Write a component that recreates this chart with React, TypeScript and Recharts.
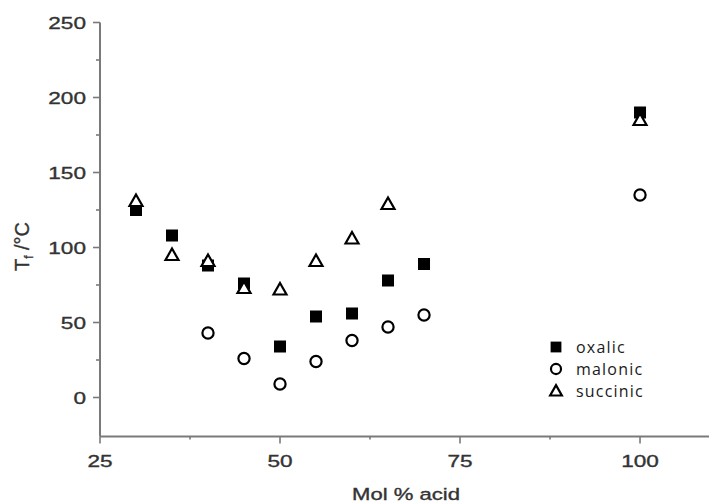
import React from 'react';
import { ScatterChart, Scatter, XAxis, YAxis, Legend, Label } from 'recharts';

const oxalicX = [30, 35, 40, 45, 50, 55, 60, 65, 70, 100];
const oxalicY = [125, 108, 88, 76, 34, 54, 56, 78, 89, 190];
const malonicX = [40, 45, 50, 55, 60, 65, 70, 100];
const malonicY = [43, 26, 9, 24, 38, 47, 55, 135];
const succinicX = [30, 35, 40, 45, 50, 55, 60, 65, 100];
const succinicY = [131, 95, 91, 73, 72, 91, 106, 129, 185];

const xMajorTicks = [25, 50, 75, 100];
const xMinorTicks = [37.5, 62.5, 87.5];
const yMajorTicks = [0, 50, 100, 150, 200, 250];
const yMinorTicks = [25, 75, 125, 175, 225];

const seriesNames = ['oxalic', 'malonic', 'succinic'];

const toPoints = (xs: number[], ys: number[]) => xs.map((x, i) => ({ x, y: ys[i] }));
const oxalicData = toPoints(oxalicX, oxalicY);
const malonicData = toPoints(malonicX, malonicY);
const succinicData = toPoints(succinicX, succinicY);

const AXIS_COLOR = '#7a7a7a';
const TEXT_COLOR = '#333';
const AXIS_FONT = '"Liberation Sans", Arial, sans-serif';

const drawMarker = (kind: string, cx: number, cy: number, s = 1) => {
  if (kind === 'oxalic') {
    const h = 6 * s;
    return <rect x={cx - h} y={cy - h} width={2 * h} height={2 * h} fill="#000" />;
  }
  if (kind === 'malonic') {
    return <circle cx={cx} cy={cy} r={5.6 * s} fill="#fff" stroke="#000" strokeWidth={2.2} />;
  }
  const w = 6.5 * s;
  return (
    <polygon
      points={`${cx},${cy - 6.5 * s} ${cx + w},${cy + 5 * s} ${cx - w},${cy + 5 * s}`}
      fill="#fff"
      stroke="#000"
      strokeWidth={2.2}
      strokeLinejoin="miter"
    />
  );
};

const shapeFor = (kind: string) => (props: any) => {
  const { cx, cy } = props;
  if (cx == null || cy == null) return <g />;
  return drawMarker(kind, cx, cy);
};

const textStyle = {
  fontFamily: AXIS_FONT,
  fill: TEXT_COLOR,
  stroke: TEXT_COLOR,
  strokeWidth: 0.35,
};

const XTick = (props: any) => {
  const { x, y, payload } = props;
  const v = payload.value;
  const major = xMajorTicks.includes(v);
  return (
    <g>
      <line x1={x} x2={x} y1={y} y2={y + (major ? 7 : 3)} stroke={AXIS_COLOR} strokeWidth={1.6} />
      {major && (
        <text
          transform={`translate(${x},${y + 30.5}) scale(1.33,1)`}
          textAnchor="middle"
          fontSize={17}
          style={textStyle}
        >
          {v}
        </text>
      )}
    </g>
  );
};

const YTick = (props: any) => {
  const { x, y, payload } = props;
  const v = payload.value;
  const major = yMajorTicks.includes(v);
  return (
    <g>
      <line x1={x - (major ? 7 : 4)} x2={x} y1={y} y2={y} stroke={AXIS_COLOR} strokeWidth={1.6} />
      {major && (
        <text
          transform={`translate(${x - 14},${y + 6}) scale(1.33,1)`}
          textAnchor="end"
          fontSize={17}
          style={textStyle}
        >
          {v}
        </text>
      )}
    </g>
  );
};

const XLabel = (props: any) => {
  const vb = props.viewBox || { x: 100, y: 436, width: 609 };
  const cx = vb.x + vb.width / 2 + 1.5;
  return (
    <text
      transform={`translate(${cx},${vb.y + 63.5}) scale(1.3,1)`}
      textAnchor="middle"
      fontSize={17}
      style={textStyle}
    >
      Mol % acid
    </text>
  );
};

const YLabel = (props: any) => {
  const vb = props.viewBox || { x: 40, y: 22, height: 414 };
  const cy = vb.y + vb.height / 2 + 17;
  return (
    <text
      transform={`translate(29,${cy}) rotate(-90)`}
      textAnchor="middle"
      fontSize={20}
      style={textStyle}
    >
      T
      <tspan fontSize={12} dy={4}>f</tspan>
      <tspan dy={-4}> /°C</tspan>
    </text>
  );
};

const LegendContent = () => (
  <div>
    {seriesNames.map((name, i) => (
      <div key={i} style={{ display: 'flex', alignItems: 'center', height: 22 }}>
        <svg width={16} height={16} style={{ display: 'block' }}>
          {drawMarker(name, 8, 8, 0.9)}
        </svg>
        <span
          style={{
            marginLeft: 12,
            fontFamily: '"Open Sans", sans-serif',
            fontSize: 16,
            letterSpacing: 1.2,
            color: '#1a1a1a',
            lineHeight: '22px',
          }}
        >
          {name}
        </span>
      </div>
    ))}
  </div>
);

export default function App() {
  return (
    <div style={{ position: 'absolute', left: 0, top: 0, width: 709, height: 503, background: '#fff' }}>
      <ScatterChart width={709} height={503} margin={{ top: 22.5, right: 0, bottom: 26.5, left: 40 }}>
        <XAxis
          type="number"
          dataKey="x"
          domain={[25, 109.58]}
          allowDataOverflow
          ticks={[...xMajorTicks, ...xMinorTicks].sort((a, b) => a - b)}
          interval={0}
          tick={<XTick />}
          tickLine={false}
          tickSize={0}
          tickMargin={0}
          height={40}
          axisLine={{ stroke: AXIS_COLOR, strokeWidth: 2 }}
        >
          <Label content={<XLabel />} />
        </XAxis>
        <YAxis
          type="number"
          dataKey="y"
          domain={[-26, 250]}
          allowDataOverflow
          ticks={[...yMajorTicks, ...yMinorTicks].sort((a, b) => a - b)}
          interval={0}
          tick={<YTick />}
          tickLine={false}
          tickSize={0}
          tickMargin={0}
          width={60}
          axisLine={{ stroke: AXIS_COLOR, strokeWidth: 2 }}
        >
          <Label content={<YLabel />} />
        </YAxis>
        <Legend
          layout="vertical"
          align="center"
          verticalAlign="middle"
          content={<LegendContent />}
          wrapperStyle={{ left: 548, top: 335.5, width: 140, height: 66 }}
        />
        <Scatter name={seriesNames[0]} data={oxalicData} fill="#000" shape={shapeFor('oxalic')} isAnimationActive={false} />
        <Scatter name={seriesNames[1]} data={malonicData} fill="#000" shape={shapeFor('malonic')} isAnimationActive={false} />
        <Scatter name={seriesNames[2]} data={succinicData} fill="#000" shape={shapeFor('succinic')} isAnimationActive={false} />
      </ScatterChart>
    </div>
  );
}
